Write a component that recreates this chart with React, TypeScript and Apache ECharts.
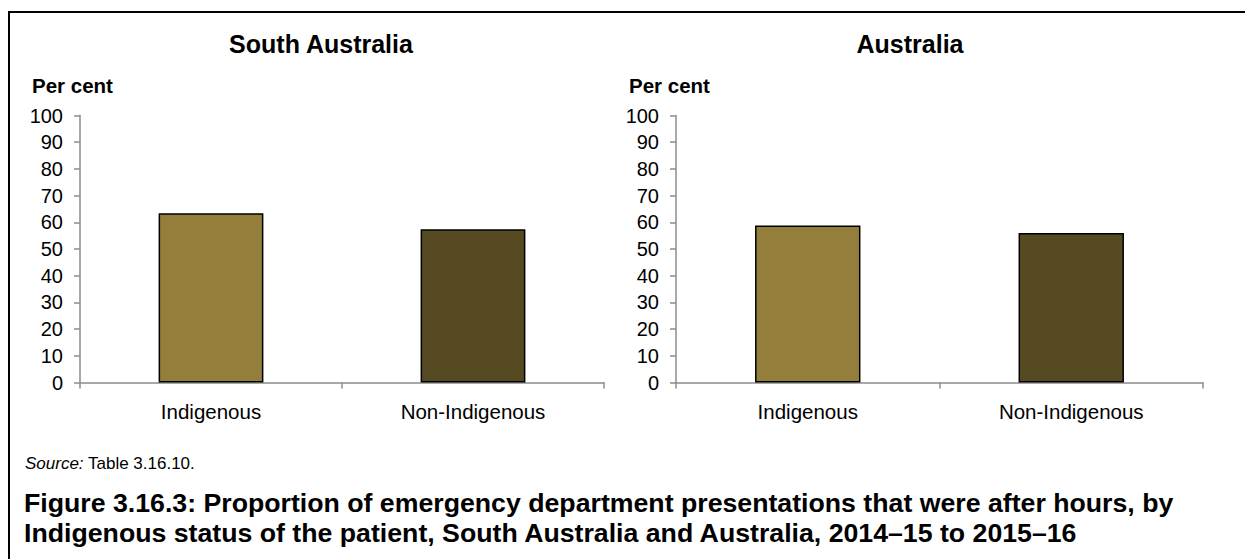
import React, { useEffect, useRef } from "react";
import * as echarts from "echarts";

const categories = ["Indigenous", "Non-Indigenous"];
const southAustraliaValues = [63.4, 57.4];
const australiaValues = [58.8, 56.0];
const panelTitles = ["South Australia", "Australia"];
const barColors = ["#937E3C", "#564A22"];
const yTicks = { min: 0, max: 100, interval: 10 };

const FONT = "'Liberation Sans', Arial, Helvetica, sans-serif";

export default function App() {
  const ref = useRef<HTMLDivElement>(null);

  useEffect(() => {
    if (!ref.current) return;
    const chart = echarts.init(ref.current, null, { renderer: "svg" });

    const grids = [
      { left: 80, top: 115.5, width: 524, height: 267 },
      { left: 676, top: 115.5, width: 527, height: 267 },
    ];

    const axisLineStyle = { color: "#8C8C8C", width: 1.5 };

    const makeSeries = (values: number[], idx: number) => ({
      type: "bar",
      xAxisIndex: idx,
      yAxisIndex: idx,
      barWidth: "40%",
      data: values.map((v, i) => ({
        value: v,
        itemStyle: { color: barColors[i], borderColor: "#000", borderWidth: 1.5 },
      })),
    });

    chart.setOption({
      animation: false,
      backgroundColor: "#ffffff",
      textStyle: { fontFamily: FONT },
      grid: grids,
      xAxis: grids.map((_, i) => ({
        type: "category",
        gridIndex: i,
        data: categories,
        axisLine: { lineStyle: axisLineStyle },
        axisTick: { show: true, alignWithLabel: false, length: 6, lineStyle: axisLineStyle },
        axisLabel: { color: "#000", fontSize: 20.5, fontFamily: FONT, margin: 18 },
      })),
      yAxis: grids.map((_, i) => ({
        type: "value",
        gridIndex: i,
        min: yTicks.min,
        max: yTicks.max,
        interval: yTicks.interval,
        axisLine: { show: true, lineStyle: axisLineStyle },
        axisTick: { show: true, length: 6, lineStyle: axisLineStyle },
        splitLine: { show: false },
        axisLabel: { color: "#000", fontSize: 20, fontFamily: FONT, margin: 17 },
      })),
      series: [makeSeries(southAustraliaValues, 0), makeSeries(australiaValues, 1)],
      graphic: [
        { type: "line", shape: { x1: 9, y1: 12, x2: 1245, y2: 12 }, style: { stroke: "#000", lineWidth: 2 } },
        { type: "line", shape: { x1: 9, y1: 11, x2: 9, y2: 559 }, style: { stroke: "#000", lineWidth: 2 } },
        {
          type: "text", x: 321, y: 44,
          style: { text: panelTitles[0], font: `bold 25px ${FONT}`, fill: "#000", align: "center", verticalAlign: "middle" },
        },
        {
          type: "text", x: 910, y: 44,
          style: { text: panelTitles[1], font: `bold 25px ${FONT}`, fill: "#000", align: "center", verticalAlign: "middle" },
        },
        {
          type: "text", x: 32, y: 85,
          style: { text: "Per cent", font: `bold 20.5px ${FONT}`, fill: "#000", align: "left", verticalAlign: "middle" },
        },
        {
          type: "text", x: 629, y: 85,
          style: { text: "Per cent", font: `bold 20.5px ${FONT}`, fill: "#000", align: "left", verticalAlign: "middle" },
        },
        {
          type: "text", x: 25, y: 463,
          style: {
            text: "{i|Source:} Table 3.16.10.",
            font: `17px ${FONT}`,
            fill: "#000",
            align: "left",
            verticalAlign: "middle",
            rich: { i: { fontStyle: "italic", fontSize: 17, fontFamily: FONT, fill: "#000" } },
          },
        },
        {
          type: "text", x: 24, y: 503,
          style: {
            text: "Figure 3.16.3: Proportion of emergency department presentations that were after hours, by",
            font: `bold 26.7px ${FONT}`, fill: "#000", align: "left", verticalAlign: "middle",
          },
        },
        {
          type: "text", x: 24, y: 533,
          style: {
            text: "Indigenous status of the patient, South Australia and Australia, 2014–15 to 2015–16",
            font: `bold 26.7px ${FONT}`, fill: "#000", align: "left", verticalAlign: "middle",
          },
        },
      ],
    });

    return () => chart.dispose();
  }, []);

  return (
    <div
      ref={ref}
      style={{ position: "absolute", left: 0, top: 0, width: 1245, height: 559, background: "#fff" }}
    />
  );
}
